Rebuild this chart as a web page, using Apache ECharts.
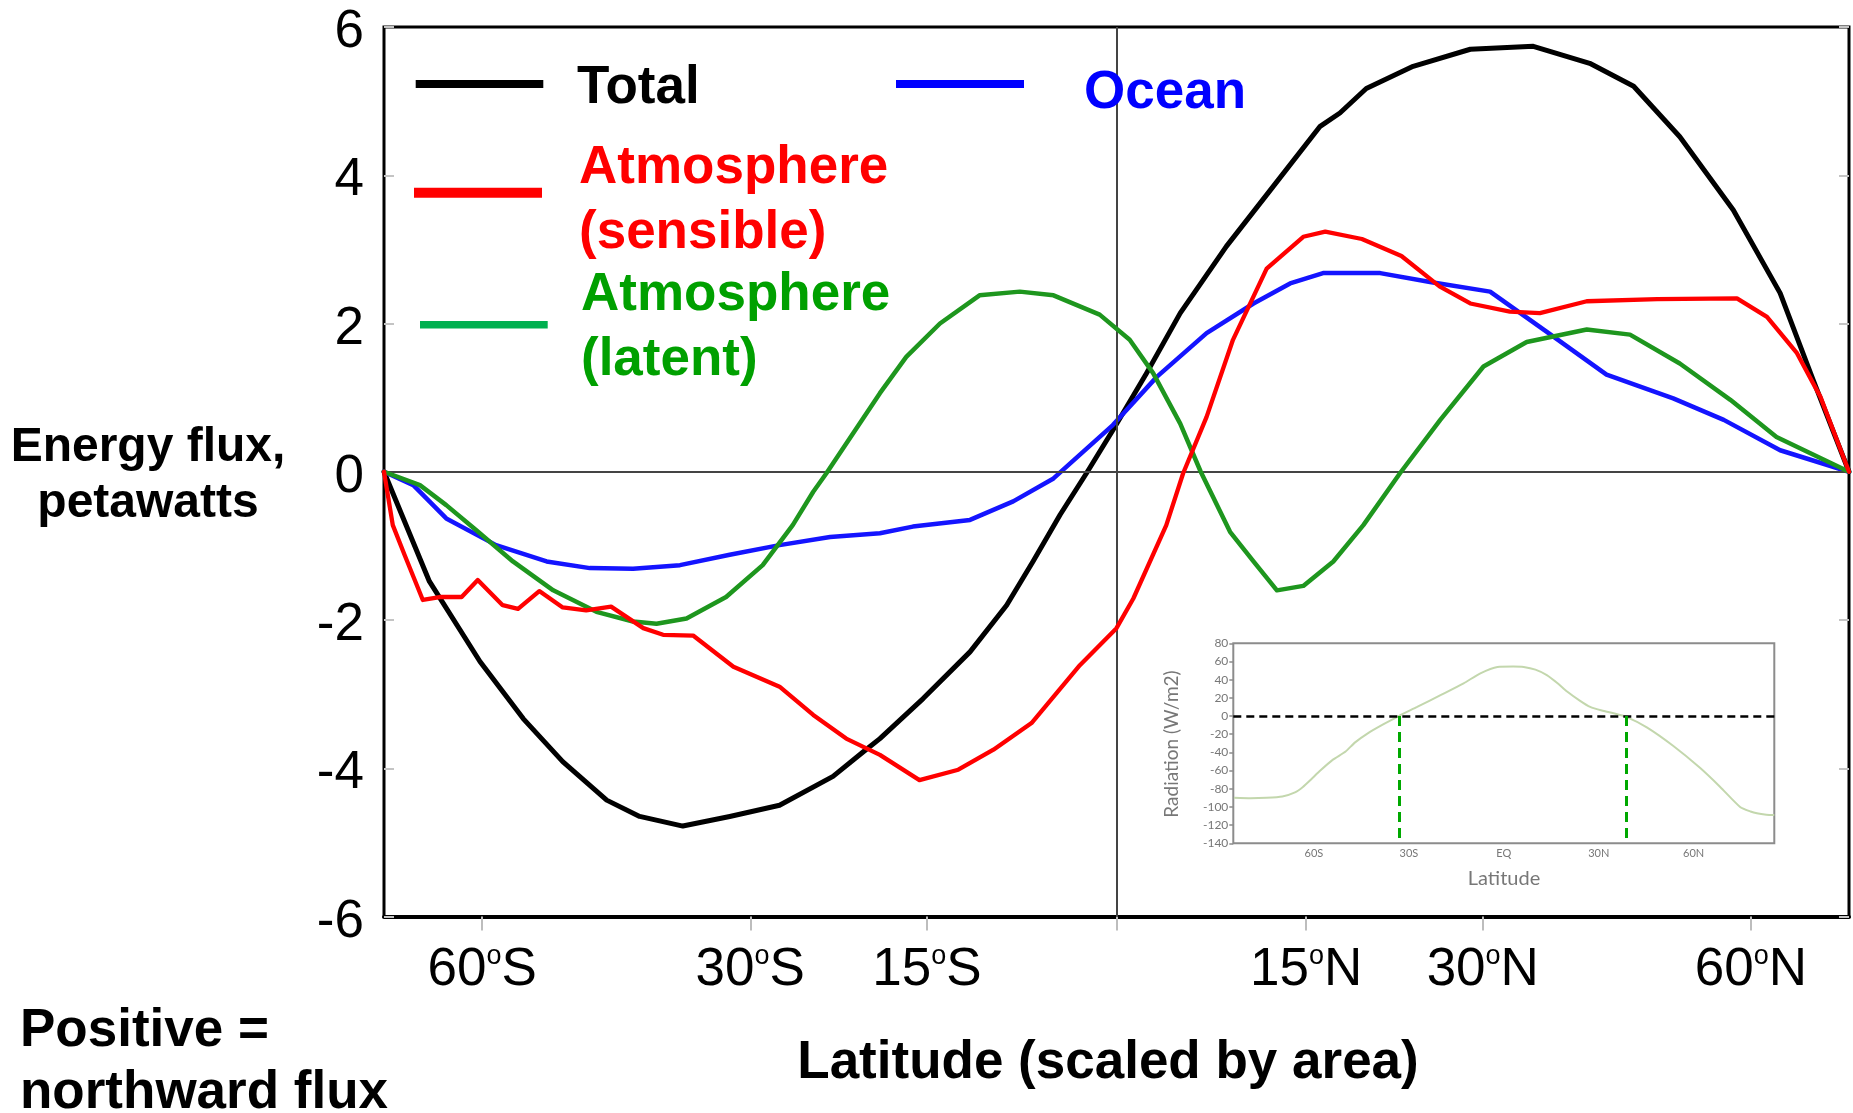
<!DOCTYPE html>
<html>
<head>
<meta charset="utf-8">
<script src="https://cdn.jsdelivr.net/npm/echarts@6/dist/echarts.min.js"></script>
<style>
html,body{margin:0;padding:0;background:#fff;}
#c{width:1853px;height:1113px;}
</style>
</head>
<body>
<div id="c"></div>
<script>
// ---------- Main chart data ----------
// x = sin(latitude)  (latitude scaled by area), y = northward energy flux in petawatts
const totalX = [-1, -0.938, -0.869, -0.810, -0.756, -0.696, -0.651, -0.592, -0.528, -0.460, -0.387, -0.346, -0.323, -0.264, -0.200, -0.150, -0.114, -0.077, -0.041, -0.005, 0.041, 0.087, 0.150, 0.214, 0.278, 0.305, 0.341, 0.405, 0.483, 0.569, 0.646, 0.706, 0.769, 0.842, 0.906, 0.951, 1];
const totalY = [0, -1.48, -2.56, -3.33, -3.91, -4.43, -4.65, -4.78, -4.65, -4.50, -4.11, -3.78, -3.60, -3.06, -2.43, -1.80, -1.21, -0.58, -0.02, 0.56, 1.33, 2.14, 3.04, 3.85, 4.66, 4.84, 5.17, 5.47, 5.70, 5.74, 5.51, 5.20, 4.52, 3.53, 2.41, 1.24, 0];

const oceanX = [-1, -0.960, -0.915, -0.847, -0.778, -0.719, -0.660, -0.596, -0.528, -0.460, -0.391, -0.323, -0.278, -0.200, -0.141, -0.086, -0.005, 0.055, 0.123, 0.187, 0.237, 0.282, 0.360, 0.428, 0.510, 0.587, 0.669, 0.760, 0.829, 0.906, 1];
const oceanY = [0, -0.18, -0.63, -0.99, -1.21, -1.30, -1.31, -1.26, -1.12, -0.99, -0.88, -0.83, -0.74, -0.65, -0.40, -0.09, 0.63, 1.28, 1.87, 2.27, 2.54, 2.68, 2.68, 2.56, 2.43, 1.89, 1.31, 0.99, 0.70, 0.29, 0];

const sensibleX = [-1, -0.988, -0.972, -0.947, -0.924, -0.894, -0.872, -0.838, -0.817, -0.788, -0.756, -0.724, -0.690, -0.646, -0.619, -0.578, -0.523, -0.460, -0.414, -0.369, -0.323, -0.269, -0.216, -0.168, -0.116, -0.050, 0, 0.023, 0.068, 0.091, 0.123, 0.159, 0.205, 0.255, 0.285, 0.335, 0.389, 0.441, 0.483, 0.537, 0.578, 0.642, 0.738, 0.847, 0.888, 0.929, 0.961, 1];
const sensibleY = [0, -0.72, -1.12, -1.73, -1.69, -1.69, -1.46, -1.80, -1.85, -1.61, -1.83, -1.87, -1.82, -2.11, -2.20, -2.21, -2.63, -2.90, -3.28, -3.60, -3.82, -4.16, -4.02, -3.75, -3.39, -2.61, -2.11, -1.71, -0.72, -0.02, 0.74, 1.78, 2.74, 3.17, 3.24, 3.14, 2.91, 2.50, 2.27, 2.16, 2.14, 2.30, 2.33, 2.34, 2.09, 1.60, 1.01, 0];

const latentX = [-1, -0.951, -0.915, -0.874, -0.824, -0.769, -0.710, -0.660, -0.628, -0.587, -0.533, -0.483, -0.442, -0.414, -0.396, -0.323, -0.287, -0.241, -0.187, -0.132, -0.086, -0.023, 0.018, 0.050, 0.087, 0.115, 0.155, 0.187, 0.219, 0.255, 0.296, 0.337, 0.387, 0.442, 0.501, 0.560, 0.642, 0.701, 0.769, 0.838, 0.901, 1];
const latentY = [0, -0.18, -0.45, -0.79, -1.21, -1.60, -1.89, -2.02, -2.05, -1.98, -1.69, -1.26, -0.72, -0.27, -0.02, 1.06, 1.55, 2.00, 2.38, 2.43, 2.38, 2.12, 1.78, 1.33, 0.65, 0, -0.81, -1.21, -1.60, -1.54, -1.21, -0.72, -0.02, 0.70, 1.42, 1.75, 1.92, 1.85, 1.46, 0.97, 0.47, 0];

// tick labels (latitude in degrees, shown at sin(latitude))
const tickLat = [-60, -30, -15, 15, 30, 60];
const tickNum = ['60', '30', '15', '15', '30', '60'];
const tickHemi = ['S', 'S', 'S', 'N', 'N', 'N'];

// ---------- Inset data (net radiation vs latitude) ----------
const insetLat = [-85.3, -80, -75, -70, -66, -63.5, -61, -58, -54, -50, -47, -43, -38, -33.2, -27.4, -20, -12.7, -7.4, -2, 3, 6.3, 10, 13.6, 17, 20, 24, 27.3, 31, 34.7, 38.7, 45.2, 53.6, 62, 68.4, 74.7, 78, 80, 83, 85.5];
const insetRad = [-90, -90.5, -90, -88.5, -84, -78, -70, -60, -48, -39, -29, -19, -9, 0, 10, 23, 36, 47, 54, 54.5, 54, 51, 45, 36, 27, 17, 10, 6, 3, -1, -12.5, -33, -57, -78, -100, -105, -107, -108.5, -109];
const insetTickLat = [-60, -30, 0, 30, 60];
const insetTickLabels = ['60S', '30S', 'EQ', '30N', '60N'];
const insetCrossLat = [-33.2, 38.7];

// ---------- Build chart ----------
const FONT = '"Liberation Sans", Arial, sans-serif';
const IFONT = 'Lato, "DejaVu Sans", sans-serif';
const pair = (xs, ys) => xs.map((x, i) => [x, ys[i]]);
const tickPos = tickLat.map(l => Math.sin(l * Math.PI / 180));
const tickIndex = v => tickPos.findIndex(p => Math.abs(p - v) < 1e-6);

const chart = echarts.init(document.getElementById('c'), null, {renderer: 'canvas'});

function curve(name, xs, ys, color, width, z) {
  return {
    name: name, type: 'line', xAxisIndex: 0, yAxisIndex: 0,
    data: pair(xs, ys), symbol: 'none', showSymbol: false, smooth: false,
    lineStyle: {color: color, width: width, join: 'round', cap: 'round'},
    emphasis: {disabled: true}, z: z
  };
}

const legendText = (text, x, y, color) => ({
  type: 'text', x: x, y: y, z: 100,
  style: {text: text, fill: color, fontSize: 53, fontWeight: 'bold', fontFamily: FONT,
          align: 'left', verticalAlign: 'middle', lineHeight: 65}
});
const legendLine = (x1, x2, y, color, w) => ({
  type: 'line', z: 100, shape: {x1: x1, y1: y, x2: x2, y2: y},
  style: {stroke: color, lineWidth: w}
});

const option = {
  animation: false,
  backgroundColor: '#ffffff',
  grid: [
    {left: 384, right: 4, top: 27, bottom: 196.5, show: true, borderColor: '#000', borderWidth: 3, backgroundColor: 'transparent'},
    {left: 1233.3, top: 643.3, width: 541, height: 200, show: true, borderColor: '#8c8c8c', borderWidth: 2, backgroundColor: 'transparent'}
  ],
  xAxis: [
    {
      gridIndex: 0, type: 'value', min: -1, max: 1,
      splitLine: {show: false},
      axisLine: {show: true, onZero: false, lineStyle: {color: '#000', width: 4}},
      axisTick: {show: true, customValues: tickPos.concat([0]), length: 14, lineStyle: {color: '#bdbdbd', width: 2}},
      axisLabel: {
        show: true, customValues: tickPos, margin: 27, fontSize: 53, lineHeight: 53,
        fontFamily: FONT, color: '#000',
        formatter: v => { const i = tickIndex(v); return i < 0 ? '' : tickNum[i] + '{sup|o}' + tickHemi[i]; },
        rich: {sup: {fontSize: 27, lineHeight: 27, verticalAlign: 'top', fontFamily: FONT, color: '#000'}}
      }
    },
    {
      gridIndex: 1, type: 'value', min: -85.5, max: 85.5,
      splitLine: {show: false},
      axisLine: {show: false, onZero: false},
      axisTick: {show: false},
      axisLabel: {
        show: true, customValues: insetTickLat, margin: 5, fontSize: 11,
        fontFamily: IFONT, color: '#777',
        formatter: v => { const i = insetTickLat.indexOf(v); return i < 0 ? '' : insetTickLabels[i]; }
      }
    }
  ],
  yAxis: [
    {
      gridIndex: 0, type: 'value', min: -6, max: 6, interval: 2,
      splitLine: {show: false}, axisLine: {show: false, onZero: false},
      axisTick: {show: true, inside: true, length: 10, lineStyle: {color: '#c4c4c4', width: 2}},
      axisLabel: {fontSize: 53, fontFamily: FONT, color: '#000', margin: 20, verticalAlign: 'top', lineHeight: 11}
    },
    {
      gridIndex: 0, type: 'value', position: 'right', min: -6, max: 6, interval: 2,
      splitLine: {show: false}, axisLine: {show: false, onZero: false}, axisLabel: {show: false},
      axisTick: {show: true, inside: true, length: 10, lineStyle: {color: '#c4c4c4', width: 2}}
    },
    {
      gridIndex: 1, type: 'value', min: -140, max: 80, interval: 20,
      splitLine: {show: false}, axisLine: {show: false, onZero: false},
      axisTick: {show: true, length: 4, lineStyle: {color: '#8c8c8c', width: 1.5}},
      axisLabel: {fontSize: 12, fontFamily: IFONT, color: '#777', margin: 5}
    }
  ],
  series: [
    {
      type: 'line', xAxisIndex: 0, yAxisIndex: 0, data: [[0, 0]], symbol: 'none',
      lineStyle: {opacity: 0}, z: 1, silent: true,
      markLine: {
        silent: true, symbol: 'none', animation: false, label: {show: false},
        lineStyle: {color: '#444', width: 2, type: 'solid'},
        emphasis: {disabled: true},
        data: [{yAxis: 0}, {xAxis: 0}]
      }
    },
    curve('Total', totalX, totalY, '#000000', 5, 3),
    curve('Ocean', oceanX, oceanY, '#1414ff', 4.5, 4),
    curve('Atmosphere (latent)', latentX, latentY, '#1e961e', 4.5, 5),
    curve('Atmosphere (sensible)', sensibleX, sensibleY, '#ff0000', 4.3, 6),
    {
      type: 'line', xAxisIndex: 1, yAxisIndex: 2, data: pair(insetLat, insetRad),
      symbol: 'none', smooth: 0.2, z: 3,
      lineStyle: {color: '#c3d7ad', width: 2},
      emphasis: {disabled: true},
      markLine: {
        silent: true, symbol: 'none', animation: false, label: {show: false},
        lineStyle: {color: '#000', width: 2.5, type: [8, 5]},
        emphasis: {disabled: true},
        data: [{yAxis: 0}]
      }
    },
    {
      type: 'line', xAxisIndex: 1, yAxisIndex: 2, data: [[0, 0]], symbol: 'none',
      lineStyle: {opacity: 0}, z: 4, silent: true,
      markLine: {
        silent: true, symbol: 'none', animation: false, label: {show: false},
        lineStyle: {color: '#00a800', width: 3, type: [10, 6]},
        emphasis: {disabled: true},
        data: insetCrossLat.map(l => [{coord: [l, 0]}, {coord: [l, -140]}])
      }
    }
  ],
  graphic: [
    // legend
    legendLine(415.7, 543.3, 84, '#000000', 8),
    legendText('Total', 577, 88, '#000000'),
    legendLine(896, 1024, 84, '#0000ff', 8),
    legendText('Ocean', 1084, 93, '#0000ff'),
    legendLine(414, 542, 192.7, '#ff0000', 10),
    legendText('Atmosphere\n(sensible)', 579, 201, '#ff0000'),
    legendLine(420, 547.7, 324.7, '#00b050', 7.5),
    legendText('Atmosphere\n(latent)', 581, 327.5, '#00a000'),
    // axis titles
    {type: 'text', x: 148, y: 476, z: 100,
     style: {text: 'Energy flux,\npetawatts', fill: '#000', fontSize: 48, fontWeight: 'bold', fontFamily: FONT,
             align: 'center', verticalAlign: 'middle', lineHeight: 56}},
    {type: 'text', x: 1108, y: 1063.5, z: 100,
     style: {text: 'Latitude (scaled by area)', fill: '#000', fontSize: 53, fontWeight: 'bold', fontFamily: FONT,
             align: 'center', verticalAlign: 'middle'}},
    {type: 'text', x: 20, y: 1062, z: 100,
     style: {text: 'Positive =\nnorthward flux', fill: '#000', fontSize: 53, fontWeight: 'bold', fontFamily: FONT,
             align: 'left', verticalAlign: 'middle', lineHeight: 62}},
    // inset titles
    {type: 'text', x: 1171.7, y: 744, rotation: Math.PI / 2, z: 100,
     style: {text: 'Radiation (W/m2)', fill: '#777', fontSize: 19, fontFamily: IFONT,
             align: 'center', verticalAlign: 'middle'}},
    {type: 'text', x: 1504, y: 879, z: 100,
     style: {text: 'Latitude', fill: '#777', fontSize: 20, fontFamily: IFONT,
             align: 'center', verticalAlign: 'middle'}}
  ]
};

chart.setOption(option);
</script>
</body>
</html>
